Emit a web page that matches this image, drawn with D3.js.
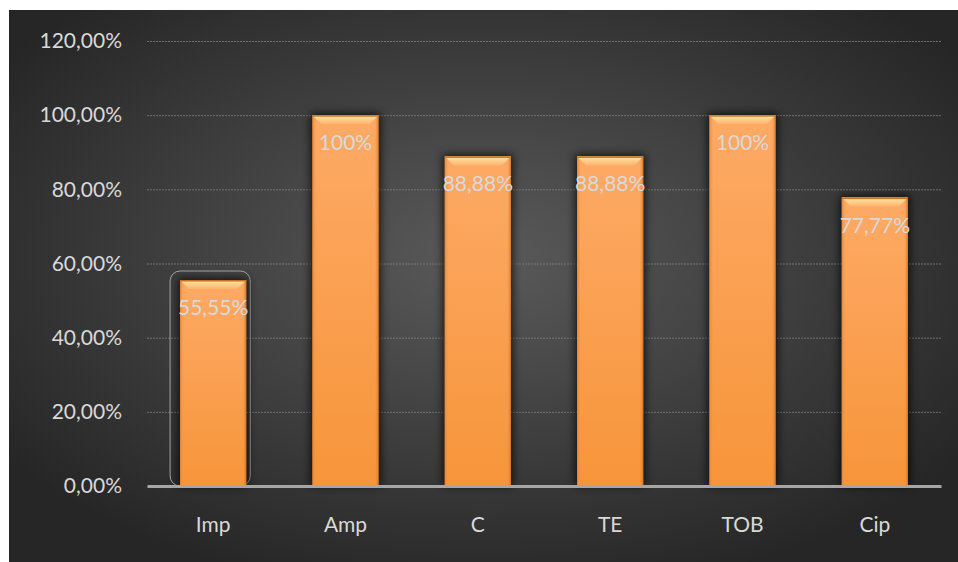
<!DOCTYPE html>
<html>
<head>
<meta charset="utf-8">
<script src="https://cdn.jsdelivr.net/npm/d3@7"></script>
<style>
  html, body { margin: 0; padding: 0; background: #ffffff; }
  svg { display: block; }
</style>
</head>
<body>
<div id="chart"></div>
<script>
const categories = ['Imp', 'Amp', 'C', 'TE', 'TOB', 'Cip'];
const values = [55.55, 100, 88.88, 88.88, 100, 77.77];
const valueLabels = ['55,55%', '100%', '88,88%', '88,88%', '100%', '77,77%'];
const yTicks = [0, 20, 40, 60, 80, 100, 120];

const W = 958, H = 562;
const margin = {top: 41, right: 17, bottom: 76, left: 147};
const width = W - margin.left - margin.right;
const height = H - margin.top - margin.bottom;
const font = 'Lato, "Open Sans", sans-serif';

const svg = d3.select('#chart').append('svg')
    .attr('width', W)
    .attr('height', H)
    .attr('viewBox', `0 0 ${W} ${H}`);

const defs = svg.append('defs');

// background radial gradient
const bg = defs.append('radialGradient')
    .attr('id', 'bg')
    .attr('cx', '50%').attr('cy', '45%').attr('r', '62%');
bg.append('stop').attr('offset', '0%').attr('stop-color', '#5a5a5a');
bg.append('stop').attr('offset', '100%').attr('stop-color', '#262626');

// bar body gradient
const barGrad = defs.append('linearGradient')
    .attr('id', 'barGrad')
    .attr('x1', 0).attr('y1', 0).attr('x2', 0).attr('y2', 1);
barGrad.append('stop').attr('offset', '0%').attr('stop-color', '#fdaa66');
barGrad.append('stop').attr('offset', '100%').attr('stop-color', '#f7953a');

const sideGrad = defs.append('linearGradient')
    .attr('id', 'sideGrad')
    .attr('x1', 0).attr('y1', 0).attr('x2', 1).attr('y2', 0);
sideGrad.append('stop').attr('offset', '0%').attr('stop-color', '#e07f2a').attr('stop-opacity', 0.8);
sideGrad.append('stop').attr('offset', '6%').attr('stop-color', '#f99a45').attr('stop-opacity', 0);
sideGrad.append('stop').attr('offset', '94%').attr('stop-color', '#f99a45').attr('stop-opacity', 0);
sideGrad.append('stop').attr('offset', '100%').attr('stop-color', '#c86a1c').attr('stop-opacity', 0.8);

const bevelGrad = defs.append('linearGradient')
    .attr('id', 'bevelGrad')
    .attr('x1', 0).attr('y1', 0).attr('x2', 0).attr('y2', 1);
bevelGrad.append('stop').attr('offset', '0%').attr('stop-color', '#ffe6a8');
bevelGrad.append('stop').attr('offset', '100%').attr('stop-color', '#fdb56c');

const shadow = defs.append('filter')
    .attr('id', 'shadow')
    .attr('x', '-30%').attr('y', '-10%').attr('width', '160%').attr('height', '120%');
shadow.append('feGaussianBlur').attr('in', 'SourceAlpha').attr('stdDeviation', 4);

svg.append('rect')
    .attr('x', 9).attr('y', 10)
    .attr('width', W - 9).attr('height', H - 10)
    .attr('fill', 'url(#bg)');

const g = svg.append('g')
    .attr('transform', `translate(${margin.left},${margin.top})`);

const x = d3.scaleBand()
    .domain(categories)
    .range([0, width])
    .paddingInner(0.5)
    .paddingOuter(0.25);

const y = d3.scaleLinear()
    .domain([0, 120])
    .range([height, 0]);

// gridlines
g.append('g')
    .attr('class', 'grid')
    .call(d3.axisLeft(y).tickValues(yTicks.slice(1)).tickSize(-width).tickFormat(''))
    .call(s => s.select('.domain').remove())
    .call(s => s.selectAll('line')
        .attr('stroke', '#7f7f7f')
        .attr('stroke-width', 1)
        .attr('stroke-dasharray', '2,1')
        .attr('opacity', 0.8));

// y labels
g.append('g')
    .attr('class', 'yaxis')
    .call(d3.axisLeft(y).tickValues(yTicks).tickSize(0).tickPadding(25)
        .tickFormat(d => d3.format('.2f')(d).replace('.', ',') + '%'))
    .call(s => s.select('.domain').remove())
    .call(s => s.selectAll('text')
        .attr('fill', '#d9d9d9')
        .style('font-family', font)
        .style('font-size', '21px'));

// selection outline around first bar
const first = categories[0];
g.append('rect')
    .attr('x', x(first) - 10)
    .attr('y', y(values[0]) - 9)
    .attr('width', x.bandwidth() + 14)
    .attr('height', height - y(values[0]) + 9)
    .attr('rx', 10)
    .attr('fill', 'none')
    .attr('stroke', '#a6a6a6')
    .attr('stroke-width', 1);

const bars = g.selectAll('.bar')
    .data(categories.map((c, i) => ({c, v: values[i], label: valueLabels[i]})))
    .enter().append('g')
    .attr('class', 'bar');

bars.append('rect')
    .attr('x', d => x(d.c) - 2)
    .attr('y', d => y(d.v) - 2)
    .attr('width', x.bandwidth() + 4)
    .attr('height', d => height - y(d.v) + 2)
    .attr('fill', '#000')
    .attr('opacity', 0.7)
    .attr('filter', 'url(#shadow)');

bars.append('rect')
    .attr('x', d => x(d.c))
    .attr('y', d => y(d.v))
    .attr('width', x.bandwidth())
    .attr('height', d => height - y(d.v))
    .attr('fill', 'url(#barGrad)');

bars.append('rect')
    .attr('x', d => x(d.c))
    .attr('y', d => y(d.v))
    .attr('width', x.bandwidth())
    .attr('height', d => height - y(d.v))
    .attr('fill', 'url(#sideGrad)');

bars.append('path')
    .attr('d', d => {
        const x0 = x(d.c), x1 = x0 + x.bandwidth(), t = y(d.v), b = 9;
        return `M${x0},${t}L${x1},${t}L${x1 - b},${t + b}L${x0 + b},${t + b}Z`;
    })
    .attr('fill', 'url(#bevelGrad)');

bars.append('rect')
    .attr('x', d => x(d.c))
    .attr('y', d => y(d.v))
    .attr('width', x.bandwidth())
    .attr('height', 1.5)
    .attr('fill', '#c8701e');

bars.append('text')
    .attr('x', d => x(d.c) + x.bandwidth() / 2)
    .attr('y', d => y(d.v) + 35)
    .attr('text-anchor', 'middle')
    .attr('fill', '#d9d9d9')
    .style('font-family', font)
    .style('font-size', '21px')
    .text(d => d.label);

// x axis
g.append('g')
    .attr('class', 'xaxis')
    .attr('transform', `translate(0,${height})`)
    .call(d3.axisBottom(x).tickSize(0).tickPadding(31))
    .call(s => s.select('.domain')
        .attr('stroke', '#a6a6a6')
        .attr('stroke-width', 3))
    .call(s => s.selectAll('text')
        .attr('fill', '#d9d9d9')
        .style('font-family', font)
        .style('font-size', '21px'));
</script>
</body>
</html>
